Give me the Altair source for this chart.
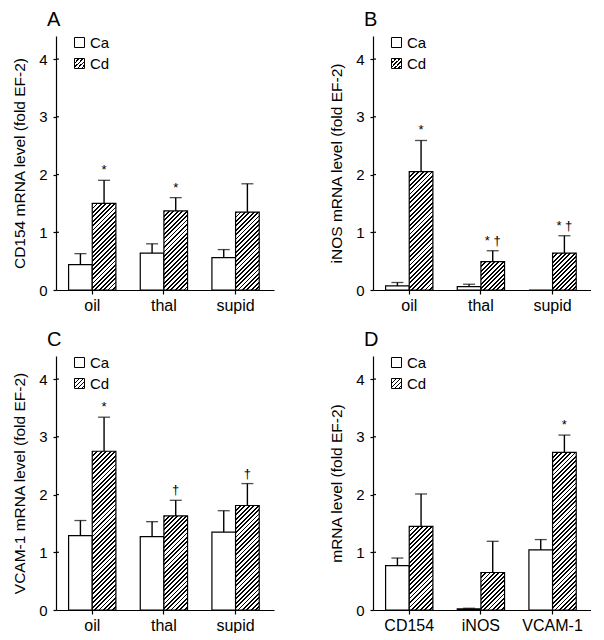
import altair as alt

FONT = "Liberation Sans"

# ---------------- data ----------------
letters = ["A", "B", "C", "D"]
y_titles = [
    "CD154 mRNA level (fold EF-2)",
    "iNOS mRNA level (fold EF-2)",
    "VCAM-1 mRNA level (fold EF-2)",
    "mRNA level (fold EF-2)",
]
groups = ["Ca", "Cd"]
cats_abc = ["oil", "thal", "supid"]
cats_d = ["CD154", "iNOS", "VCAM-1"]
y_ticks = [0, 1, 2, 3, 4]

a_ca = [0.44, 0.64, 0.56]
a_ca_err = [0.19, 0.16, 0.14]
a_cd = [1.50, 1.37, 1.35]
a_cd_err = [0.40, 0.23, 0.49]
a_marks = ["*", "*", ""]

b_ca = [0.07, 0.06, 0.0]
b_ca_err = [0.06, 0.04, 0.0]
b_cd = [2.05, 0.49, 0.64]
b_cd_err = [0.54, 0.19, 0.30]
b_marks = ["*", "* †", "* †"]

c_ca = [1.29, 1.27, 1.35]
c_ca_err = [0.26, 0.26, 0.37]
c_cd = [2.75, 1.63, 1.81]
c_cd_err = [0.59, 0.27, 0.38]
c_marks = ["*", "†", "†"]

d_ca = [0.77, 0.02, 1.04]
d_ca_err = [0.13, 0.01, 0.18]
d_cd = [1.45, 0.65, 2.73]
d_cd_err = [0.56, 0.54, 0.30]
d_marks = ["", "", "*"]

# ---------------- layout / style ----------------
W, H = 218, 254
YMAX = 4.4
PI, PO, ALIGN = 0.34, 0.191, 0.46
PERIOD, FRAC = 4.4, 0.42


def stripe_stops(n):
    stops = []
    for k in range(n):
        a, b, c = k / n, (k + FRAC) / n, (k + 1) / n
        stops += [
            {"offset": a, "color": "black"},
            {"offset": b, "color": "black"},
            {"offset": b, "color": "white"},
            {"offset": c, "color": "white"},
        ]
    return stops


def hatch(w, h):
    s = (w + h) / (w * w + h * h)
    n = max(1, round((w + h) / PERIOD))
    return {"gradient": "linear", "x1": 0, "y1": 0, "x2": w * s, "y2": h * s,
            "stops": stripe_stops(n)}


def hatch_expr(side):
    n = max(1, round(2 * side / PERIOD))
    st = ",".join("{offset:%g,color:'%s'}" % (d["offset"], d["color"]) for d in stripe_stops(n))
    return "{gradient:'linear',x1:0,y1:0,x2:1,y2:1,stops:[" + st + "]}"


def panel(letter, ytitle, cats, ca, ca_err, cd, cd_err, marks):
    step = W / (len(cats) - PI + 2 * PO)
    bar_w = step * (1 - PI) / 2
    ppu = H / YMAX

    rows_ca = [{"cat": c, "grp": "Ca", "val": v, "top": v + e, "err": e}
               for c, v, e in zip(cats, ca, ca_err)]
    rows_cd = [{"cat": c, "grp": "Cd", "val": v, "top": v + e, "err": e,
                "hatch": hatch(bar_w, v * ppu)}
               for c, v, e in zip(cats, cd, cd_err)]
    err_rows = [r for r in rows_ca + rows_cd if r["err"] > 0]
    err_rows = [{k: r[k] for k in ("cat", "grp", "val", "top")} for r in err_rows]
    note_rows = [{"cat": c, "grp": "Cd", "top": v + e, "mark": m}
                 for c, v, e, m in zip(cats, cd, cd_err, marks) if m]
    tick_rows = [{"val": t} for t in y_ticks if t > 0]

    x_axis = alt.Axis(title=None, labelAngle=0, labelFontSize=16, tickSize=4,
                      labelPadding=3, domainWidth=1.2, tickWidth=1.2)
    y_axis = alt.Axis(title=ytitle, values=y_ticks, labelFontSize=15,
                      titleFontSize=15.5, titleFontWeight="normal", tickSize=3,
                      labelPadding=6, titlePadding=11, domainWidth=1.2, tickWidth=1.2)
    xs = alt.Scale(domain=cats, paddingInner=PI, paddingOuter=PO, align=ALIGN)
    ys = alt.Scale(domain=[0, YMAX], nice=False, zero=True)

    def X():
        return alt.X("cat:N", sort=cats, scale=xs, axis=x_axis)

    def XO():
        return alt.XOffset("grp:N", scale=alt.Scale(domain=groups, paddingInner=0, paddingOuter=0))

    def Y(f):
        return alt.Y(f, type="quantitative", scale=ys, axis=y_axis)

    ca_bars = alt.Chart(alt.Data(values=rows_ca)).mark_bar(
        stroke="black", strokeWidth=1.2).encode(
        x=X(), xOffset=XO(), y=Y("val"),
        fill=alt.Fill("grp:N",
                      scale=alt.Scale(domain=groups,
                                      range=["white", alt.ExprRef(expr=hatch_expr(10))]),
                      legend=alt.Legend(title=None, orient="none", legendX=16, legendY=-1,
                                        symbolType="square", symbolSize=100,
                                        symbolStrokeColor="black", symbolStrokeWidth=1,
                                        labelFont=FONT, labelFontSize=15, labelColor="black",
                                        rowPadding=5, padding=0, labelOffset=3)))
    cd_bars = alt.Chart(alt.Data(values=rows_cd)).mark_bar(
        stroke="black", strokeWidth=1.2).encode(
        x=X(), xOffset=XO(), y=Y("val"),
        fill=alt.Fill("hatch:N", scale=None, legend=None))
    rules = alt.Chart(alt.Data(values=err_rows)).mark_rule(
        color="black", strokeWidth=1.4).encode(
        x=X(), xOffset=XO(), y=Y("val"), y2="top:Q")
    caps = alt.Chart(alt.Data(values=err_rows)).mark_tick(
        orient="horizontal", size=12, thickness=1.3, color="black").encode(
        x=X(), xOffset=XO(), y=Y("top"))
    notes = alt.Chart(alt.Data(values=note_rows)).mark_text(
        font=FONT, fontSize=13, color="black", baseline="alphabetic", dy=-6).encode(
        x=X(), xOffset=XO(), y=Y("top"), text="mark:N")
    inner_ticks = alt.Chart(alt.Data(values=tick_rows)).mark_rule(
        color="black", strokeWidth=1.2).encode(
        y=Y("val"), x=alt.value(0), x2=alt.value(3))

    return alt.layer(rules, caps, ca_bars, cd_bars, notes, inner_ticks).properties(
        width=W, height=H,
        title=alt.TitleParams(letter, anchor="start", frame="group", font=FONT,
                              fontSize=20, fontWeight="normal", color="black",
                              dx=-9, offset=5))


pA = panel(letters[0], y_titles[0], cats_abc, a_ca, a_ca_err, a_cd, a_cd_err, a_marks)
pB = panel(letters[1], y_titles[1], cats_abc, b_ca, b_ca_err, b_cd, b_cd_err, b_marks)
pC = panel(letters[2], y_titles[2], cats_abc, c_ca, c_ca_err, c_cd, c_cd_err, c_marks)
pD = panel(letters[3], y_titles[3], cats_d, d_ca, d_ca_err, d_cd, d_cd_err, d_marks)

row1 = alt.hconcat(pA, pB, spacing=55).resolve_scale(fill="independent").resolve_legend(fill="independent")
row2 = alt.hconcat(pC, pD, spacing=55).resolve_scale(fill="independent").resolve_legend(fill="independent")

chart = alt.vconcat(row1, row2, spacing=17).resolve_scale(
    fill="independent").resolve_legend(fill="independent").configure_view(
    stroke=None).configure_axis(
    labelFont=FONT, titleFont=FONT, labelColor="black", titleColor="black",
    domainColor="black", tickColor="black", grid=False).properties(
    background="white", padding={"left": 4, "top": 2, "right": 0, "bottom": 0})

chart.save("out.html", embed_options={"renderer": "svg", "actions": False})
